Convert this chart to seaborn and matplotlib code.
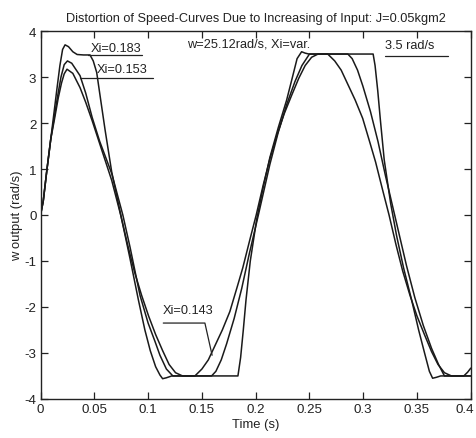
import numpy as np
import pandas as pd
import matplotlib
matplotlib.use("Agg")
import matplotlib.pyplot as plt
import matplotlib.transforms as mtransforms
import seaborn as sns

# ---- data ----
t_xi183 = [0, 0.0025, 0.006, 0.0095, 0.0116, 0.015, 0.018, 0.0205, 0.0228, 0.026, 0.030, 0.034,
           0.040, 0.046, 0.049, 0.0522, 0.0553, 0.060, 0.0662, 0.0755, 0.0832, 0.091, 0.097,
           0.102, 0.107, 0.111, 0.1135, 0.117, 0.122, 0.1835, 0.186, 0.1885, 0.191, 0.195,
           0.2009, 0.207, 0.2132, 0.221, 0.2288, 0.234, 0.2385, 0.2427, 0.246, 0.2495, 0.3092,
           0.311, 0.3135, 0.316, 0.3195, 0.3255, 0.331, 0.3375, 0.345, 0.3515, 0.357, 0.3615,
           0.3645, 0.368, 0.372, 0.400]
v_xi183 = [0, 0.3, 1.0, 1.65, 2.05, 2.7, 3.25, 3.6, 3.70, 3.66, 3.55, 3.49,
           3.48, 3.48, 3.35, 3.1, 2.6, 1.85, 0.93, -0.1, -0.95, -1.85, -2.5,
           -2.95, -3.3, -3.48, -3.56, -3.54, -3.5, -3.5, -3.1, -2.5, -1.85, -1.0,
           -0.1, 0.6, 1.25, 1.9, 2.5, 2.98, 3.4, 3.55, 3.52, 3.5, 3.5,
           3.25, 2.7, 2.05, 1.2, 0.25, -0.45, -1.15, -1.85, -2.5, -3.0, -3.4,
           -3.55, -3.53, -3.5, -3.5]

t_xi153 = [0, 0.0025, 0.006, 0.0095, 0.0125, 0.016, 0.019, 0.022, 0.025, 0.029, 0.0367, 0.042,
           0.048, 0.055, 0.0662, 0.0765, 0.0832, 0.0925, 0.100, 0.1064, 0.111, 0.117, 0.123,
           0.159, 0.163, 0.168, 0.173, 0.180, 0.187, 0.194, 0.2025, 0.2132, 0.221, 0.2288,
           0.2365, 0.243, 0.250, 0.2857, 0.2897, 0.2947, 0.2997, 0.3067, 0.3137, 0.3207,
           0.3292, 0.3402, 0.348, 0.3558, 0.3635, 0.370, 0.3755, 0.400]
v_xi153 = [0, 0.3, 1.0, 1.65, 2.09, 2.6, 3.0, 3.27, 3.35, 3.3, 3.03, 2.65,
           2.12, 1.6, 0.9, 0.0, -0.7, -1.75, -2.35, -2.75, -3.05, -3.35, -3.5,
           -3.5, -3.4, -3.15, -2.8, -2.25, -1.6, -0.85, 0.0, 1.1, 1.8, 2.4,
           2.9, 3.25, 3.5, 3.5, 3.4, 3.15, 2.8, 2.25, 1.6, 0.85,
           0.0, -1.1, -1.8, -2.4, -2.9, -3.25, -3.5, -3.5]

t_xi143 = [0, 0.0025, 0.006, 0.0095, 0.013, 0.0165, 0.0195, 0.022, 0.0246, 0.030, 0.0367, 0.042,
           0.048, 0.055, 0.0662, 0.0745, 0.0815, 0.0875, 0.094, 0.1005, 0.107, 0.1135, 0.1195,
           0.1255, 0.132, 0.1435, 0.150, 0.156, 0.163, 0.169, 0.176, 0.183, 0.188, 0.195,
           0.2005, 0.207, 0.2132, 0.220, 0.2265, 0.2334, 0.240, 0.246, 0.252, 0.258, 0.267,
           0.2735, 0.2795, 0.2865, 0.2925, 0.2995, 0.3065, 0.3115, 0.3185, 0.324, 0.3305,
           0.3367, 0.3435, 0.350, 0.3569, 0.3635, 0.3695, 0.3755, 0.382, 0.3935, 0.397, 0.400]
v_xi143 = [0, 0.3, 1.0, 1.65, 2.09, 2.55, 2.87, 3.07, 3.17, 3.08, 2.77, 2.45,
           2.05, 1.55, 0.75, 0.0, -0.7, -1.25, -1.75, -2.2, -2.6, -2.95, -3.25,
           -3.43, -3.5, -3.5, -3.35, -3.15, -2.8, -2.5, -2.1, -1.55, -1.15, -0.5,
           0.0, 0.65, 1.22, 1.75, 2.2, 2.6, 2.97, 3.25, 3.43, 3.5, 3.5,
           3.35, 3.15, 2.8, 2.5, 2.1, 1.55, 1.15, 0.5, 0.0, -0.65,
           -1.22, -1.75, -2.2, -2.6, -2.97, -3.25, -3.43, -3.5, -3.5, -3.42, -3.33]

curve_names = ["Xi=0.183", "Xi=0.153", "Xi=0.143"]
x_ticks = [0, 0.05, 0.1, 0.15, 0.2, 0.25, 0.3, 0.35, 0.4]
x_tick_labels = ["0", "0.05", "0.1", "0.15", "0.2", "0.25", "0.3", "0.35", "0.4"]
y_ticks = [-4, -3, -2, -1, 0, 1, 2, 3, 4]
y_tick_labels = ["-4", "-3", "-2", "-1", "0", "1", "2", "3", "4"]

title = "Distortion of Speed-Curves Due to Increasing of Input: J=0.05kgm2"
subtitle = "w=25.12rad/s, Xi=var."
sat_label = "3.5 rad/s"

frames = []
for name, tt, vv in zip(curve_names, [t_xi183, t_xi153, t_xi143], [v_xi183, v_xi153, v_xi143]):
    frames.append(pd.DataFrame({"t": tt, "v": vv, "curve": name}))
df = pd.concat(frames, ignore_index=True)

sns.set_style("ticks")
plt.rcParams["font.family"] = ["Liberation Sans", "DejaVu Sans"]

fig = plt.figure(figsize=(4.77, 4.39), dpi=100)
ax = fig.add_axes([0.085, 0.089, 0.902, 0.838])

sns.lineplot(data=df, x="t", y="v", units="curve", estimator=None, sort=False,
             color="#1a1a1a", linewidth=1.1, ax=ax, legend=False)

ax.set_xlim(0, 0.4)
ax.set_ylim(-4, 4)
ax.set_xticks(x_ticks)
ax.set_xticklabels(x_tick_labels)
ax.set_yticks(y_ticks)
ax.set_yticklabels(y_tick_labels)
ax.tick_params(direction="in", top=True, right=True, length=5, width=0.9,
               labelsize=9.6, colors="#222222", pad=3)
for s in ax.spines.values():
    s.set_visible(True)
    s.set_linewidth(1.0)
    s.set_color("#222222")

# nudge last x tick label so it stays within the figure
last = ax.get_xticklabels()[-1]
last.set_transform(last.get_transform() + mtransforms.ScaledTranslation(-4 / 72, 0, fig.dpi_scale_trans))

ax.set_xlabel("Time (s)", fontsize=9.4, color="#222222", labelpad=2)
ax.set_ylabel("w output (rad/s)", fontsize=9.4, color="#222222", labelpad=1)
ax.set_title(title, fontsize=9.2, color="#222222", pad=7)

tc = "#222222"
fs = 9.2
ax.text(0.136, 3.72, subtitle, fontsize=fs, color=tc, va="center", ha="left")
ax.text(0.047, 3.63, "Xi=0.183", fontsize=fs, color=tc, va="center", ha="left")
ax.plot([0.0441, 0.0943], [3.47, 3.47], color=tc, lw=0.9)
ax.text(0.0525, 3.17, "Xi=0.153", fontsize=fs, color=tc, va="center", ha="left")
ax.plot([0.0367, 0.1045], [2.98, 2.98], color=tc, lw=0.9)
ax.text(0.320, 3.70, sat_label, fontsize=fs, color=tc, va="center", ha="left")
ax.plot([0.320, 0.3787], [3.46, 3.46], color=tc, lw=0.9)
ax.text(0.1138, -2.07, "Xi=0.143", fontsize=fs, color=tc, va="center", ha="left")
ax.plot([0.1141, 0.1528, 0.1595], [-2.35, -2.35, -3.05], color=tc, lw=0.9)

fig.savefig("out.png", dpi=100, facecolor="white")
